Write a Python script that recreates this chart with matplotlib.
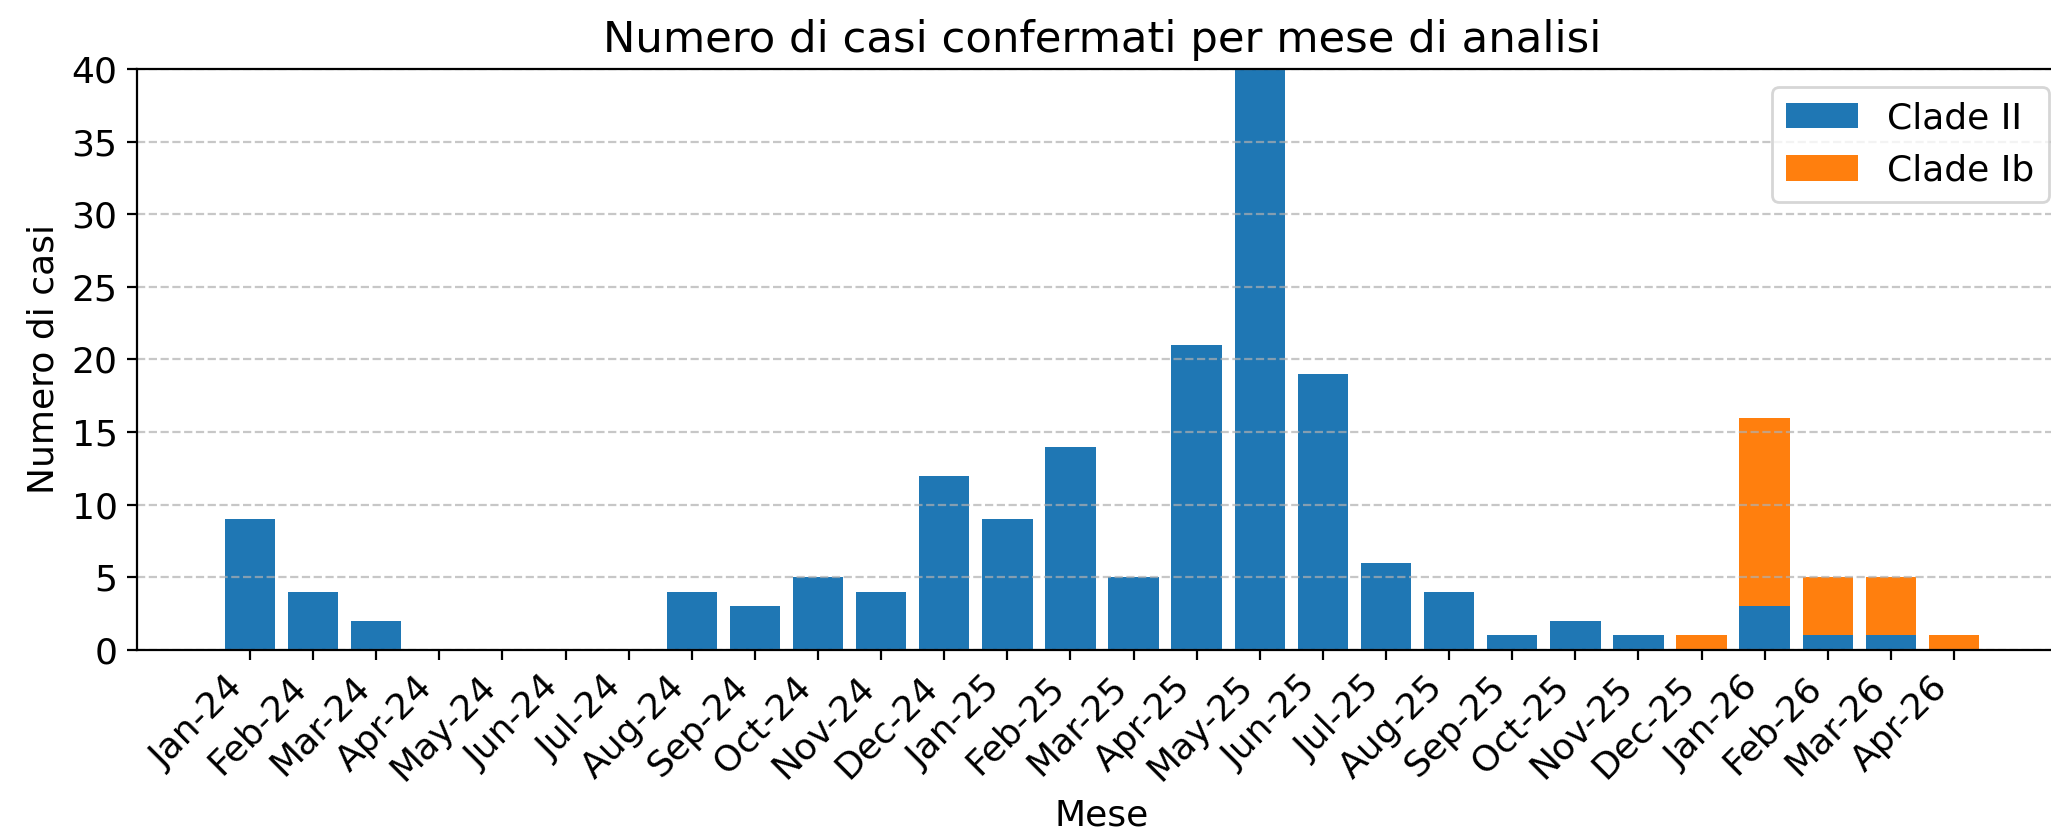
import matplotlib
matplotlib.use('Agg')
import matplotlib.pyplot as plt
import numpy as np

mesi = ['Jan-24', 'Feb-24', 'Mar-24', 'Apr-24', 'May-24', 'Jun-24', 'Jul-24',
        'Aug-24', 'Sep-24', 'Oct-24', 'Nov-24', 'Dec-24', 'Jan-25', 'Feb-25',
        'Mar-25', 'Apr-25', 'May-25', 'Jun-25', 'Jul-25', 'Aug-25', 'Sep-25',
        'Oct-25', 'Nov-25', 'Dec-25', 'Jan-26', 'Feb-26', 'Mar-26', 'Apr-26']
clade_ii = [9, 4, 2, 0, 0, 0, 0, 4, 3, 5, 4, 12, 9, 14, 5, 21, 40, 19, 6, 4,
            1, 2, 1, 0, 3, 1, 1, 0]
clade_ib = [0, 0, 0, 0, 0, 0, 0, 0, 0, 0, 0, 0, 0, 0, 0, 0, 0, 0, 0, 0,
            0, 0, 0, 1, 13, 4, 4, 1]

plt.rcParams['font.size'] = 13

fig = plt.figure(figsize=(10.255, 4.195), dpi=200)
ax = fig.add_axes([0.0668, 0.2253, 1.0078 - 0.0668, 0.9178 - 0.2253])

x = np.arange(len(mesi))
ax.bar(x, clade_ii, width=0.8, color='#1f77b4', label='Clade II')
ax.bar(x, clade_ib, width=0.8, bottom=clade_ii, color='#ff7f0e', label='Clade Ib')

ax.set_ylim(0, 40)
ax.set_xticks(x)
ax.set_xticklabels(mesi, rotation=45, ha='right')
ax.grid(axis='y', linestyle='--', alpha=0.7)

ax.set_title('Numero di casi confermati per mese di analisi')
ax.set_xlabel('Mese')
ax.set_ylabel('Numero di casi')
ax.legend(loc='upper right')

fig.savefig('out.png', dpi=200)
